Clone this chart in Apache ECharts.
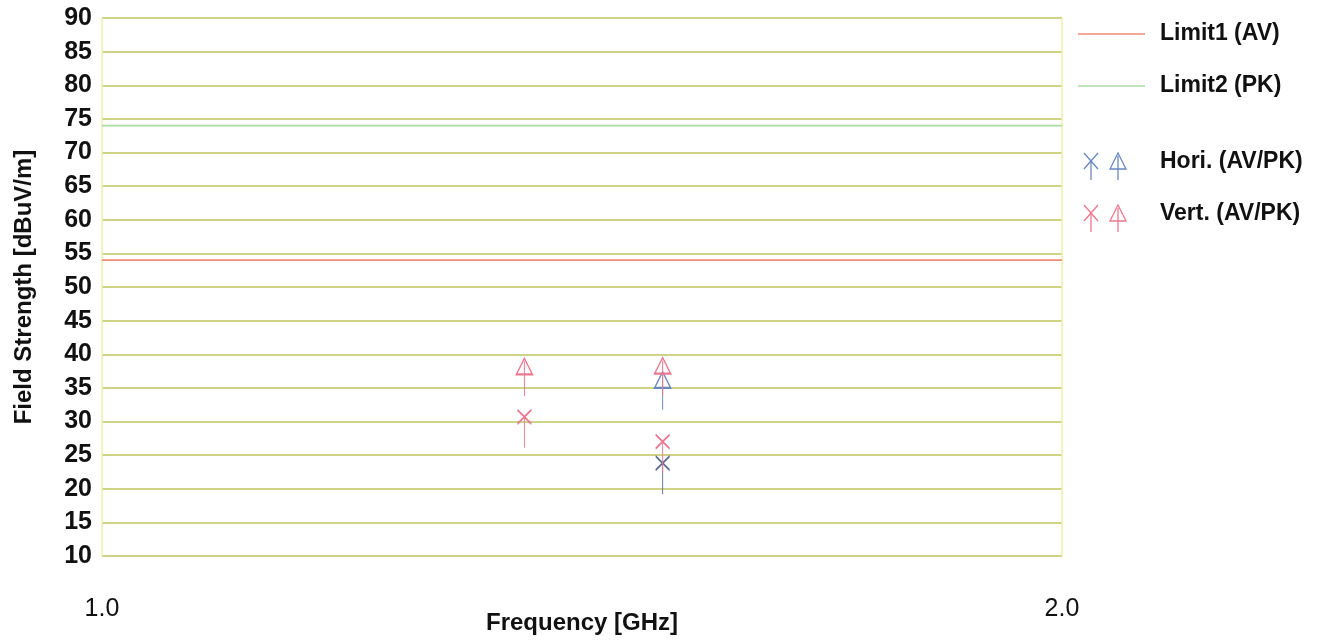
<!DOCTYPE html>
<html>
<head>
<meta charset="utf-8">
<script src="https://cdn.jsdelivr.net/npm/echarts@6/dist/echarts.min.js"></script>
<style>
html,body{margin:0;padding:0;background:#fff;}
#chart{width:1328px;height:640px;}
</style>
</head>
<body>
<div id="chart"></div>
<script>
// ---- data ----
const limitFreq = [1.0, 2.0];
const limit1Values = [54, 54];   // Limit1 (AV)
const limit2Values = [74, 74];   // Limit2 (PK)
const horiAVFreq = [1.584];
const horiAVValues = [23.8];
const horiPKFreq = [1.584];
const horiPKValues = [36.2];
const vertAVFreq = [1.44, 1.584];
const vertAVValues = [30.7, 27.0];
const vertPKFreq = [1.44, 1.584];
const vertPKValues = [38.2, 38.3];
const xTickLabels = ['1.0', '2.0'];
const legendNames = ['Limit1 (AV)', 'Limit2 (PK)', 'Hori. (AV/PK)', 'Vert. (AV/PK)'];

const zip = (xs, ys) => xs.map((x, i) => [x, ys[i]]);

const FONT = '"Liberation Sans", Arial, sans-serif';
const HORI = '#6a88c0';
const VERT = '#ec7890';
const RED = '#f08a78';
const GREEN = '#a9d9a4';

// X symbol with a stem below (box 14 x 38, X centre at (7,7))
const xSym = 'path://M0 0 L14 14 M14 0 L0 14 M7 7 L7 38';
// arrow symbol: hollow triangle with a stem (box 16 x 38, triangle mid at y=8)
const aSym = 'path://M8 0 L16 16 L0 16 Z M8 3 L8 38';

const chart = echarts.init(document.getElementById('chart'));

function legendLine(y, color) {
  return {type: 'line', shape: {x1: 1078, y1: y, x2: 1145, y2: y}, style: {stroke: color, lineWidth: 1.5}, silent: true};
}
function legendText(y, text) {
  return {type: 'text', x: 1160, y: y, style: {text: text, font: 'bold 23px ' + FONT, fill: '#111', textVerticalAlign: 'middle', textAlign: 'left'}, silent: true};
}
function legendX(cx, cy, color) {
  return {type: 'group', silent: true, children: [
    {type: 'line', shape: {x1: cx - 7, y1: cy - 8, x2: cx + 7, y2: cy + 8}, style: {stroke: color, lineWidth: 1.3}},
    {type: 'line', shape: {x1: cx + 7, y1: cy - 8, x2: cx - 7, y2: cy + 8}, style: {stroke: color, lineWidth: 1.3}},
    {type: 'line', shape: {x1: cx, y1: cy, x2: cx, y2: cy + 19}, style: {stroke: color, lineWidth: 1.3}}
  ]};
}
function legendArrow(cx, cy, color) {
  return {type: 'group', silent: true, children: [
    {type: 'polygon', shape: {points: [[cx, cy - 8], [cx + 8, cy + 8], [cx - 8, cy + 8]]}, style: {stroke: color, fill: 'none', lineWidth: 1.3}},
    {type: 'line', shape: {x1: cx, y1: cy - 5, x2: cx, y2: cy + 19}, style: {stroke: color, lineWidth: 1.3}}
  ]};
}

const option = {
  backgroundColor: '#ffffff',
  animation: false,
  grid: {left: 102, right: 266, top: 18, bottom: 84, show: false, containLabel: false, outerBoundsMode: 'none'},
  xAxis: {
    type: 'value', min: 1.0, max: 2.0, interval: 1.0,
    name: 'Frequency [GHz]', nameLocation: 'middle', nameGap: 55, nameMoveOverlap: false,
    nameTextStyle: {fontFamily: FONT, fontWeight: 'bold', fontSize: 24, color: '#111'},
    axisLine: {show: false}, axisTick: {show: false},
    axisLabel: {margin: 41, fontFamily: FONT, fontSize: 25, color: '#111',
      formatter: (v) => xTickLabels[Math.round(v - 1)] || ''},
    splitLine: {show: true, lineStyle: {color: '#eef1a8', width: 1.5}}
  },
  yAxis: {
    type: 'value', min: 10, max: 90, interval: 5,
    name: 'Field Strength [dBuV/m]', nameLocation: 'middle', nameGap: 66, nameRotate: 90,
    nameTextStyle: {fontFamily: FONT, fontWeight: 'bold', fontSize: 24, color: '#111'},
    axisLine: {show: false}, axisTick: {show: false},
    axisLabel: {margin: 10, fontFamily: FONT, fontWeight: 'bold', fontSize: 25, color: '#111'},
    splitLine: {show: true, lineStyle: {color: '#cfd386', width: 2}}
  },
  series: [
    {name: legendNames[0], type: 'line', data: zip(limitFreq, limit1Values), symbol: 'none',
      lineStyle: {color: RED, width: 1.8}, z: 3},
    {name: legendNames[1], type: 'line', data: zip(limitFreq, limit2Values), symbol: 'none',
      lineStyle: {color: GREEN, width: 1.8}, z: 3},
    {name: 'Hori. AV', type: 'scatter', data: zip(horiAVFreq, horiAVValues), symbol: xSym,
      symbolSize: [14, 38], symbolOffset: [0, 12],
      itemStyle: {color: 'rgba(0,0,0,0)', borderColor: '#5d6f93', borderWidth: 1.5, opacity: 1}, z: 4},
    {name: 'Hori. PK', type: 'scatter', data: zip(horiPKFreq, horiPKValues), symbol: aSym,
      symbolSize: [16, 38], symbolOffset: [0, 11],
      itemStyle: {color: 'rgba(0,0,0,0)', borderColor: HORI, borderWidth: 1.5, opacity: 1}, z: 4},
    {name: 'Vert. AV', type: 'scatter', data: zip(vertAVFreq, vertAVValues), symbol: xSym,
      symbolSize: [14, 38], symbolOffset: [0, 12],
      itemStyle: {color: 'rgba(0,0,0,0)', borderColor: VERT, borderWidth: 1.5, opacity: 1}, z: 5},
    {name: 'Vert. PK', type: 'scatter', data: zip(vertPKFreq, vertPKValues), symbol: aSym,
      symbolSize: [16, 38], symbolOffset: [0, 11],
      itemStyle: {color: 'rgba(0,0,0,0)', borderColor: VERT, borderWidth: 1.5, opacity: 1}, z: 5}
  ],
  graphic: [
    legendLine(34, RED), legendText(34, legendNames[0]),
    legendLine(86, GREEN), legendText(86, legendNames[1]),
    legendX(1091, 161, HORI), legendArrow(1118, 161, HORI), legendText(162, legendNames[2]),
    legendX(1091, 213, VERT), legendArrow(1118, 213, VERT), legendText(214, legendNames[3])
  ]
};
chart.setOption(option);
</script>
</body>
</html>
